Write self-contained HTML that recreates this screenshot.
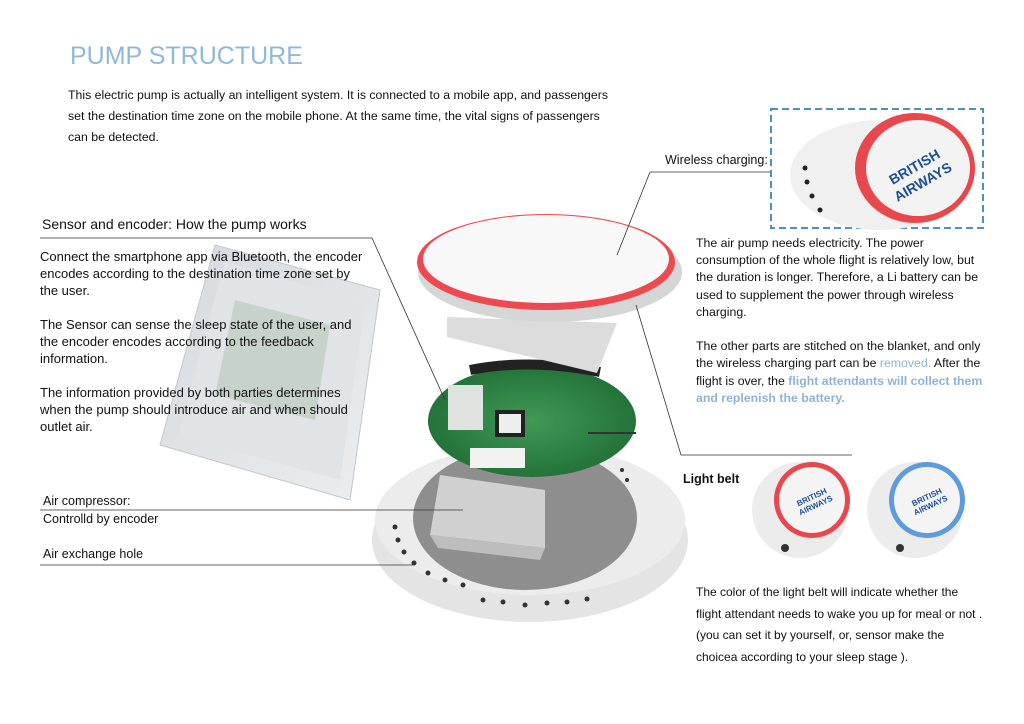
<!DOCTYPE html>
<html><head><meta charset="utf-8"><style>
body{margin:0;width:1024px;height:724px;background:#fff;position:relative;overflow:hidden;font-family:"Liberation Sans",sans-serif;color:#111}
.t{position:absolute;white-space:nowrap}
.s{font-size:12.3px;line-height:21px}
.m{font-size:13px;line-height:17px}
.b{color:#8fb3d6;font-weight:bold}
</style></head><body>
<svg width="1024" height="724" style="position:absolute;left:0;top:0">
<defs>
<linearGradient id="ph" x1="0" y1="0" x2="1" y2="1"><stop offset="0" stop-color="#c8cdd3"/><stop offset="1" stop-color="#e6e8ea"/></linearGradient>
<radialGradient id="pc" cx="0.5" cy="0.5" r="0.6"><stop offset="0" stop-color="#3f9a55"/><stop offset="1" stop-color="#1f6b35"/></radialGradient>
</defs>
<g opacity="0.75">
<polygon points="215,245 380,290 350,500 160,445" fill="url(#ph)" stroke="#b0b5ba"/>
<polygon points="225,262 365,302 340,480 178,435" fill="#d6dbe0"/>
<polygon points="235,300 330,325 315,420 215,395" fill="#9fb3a0" opacity="0.6"/>
</g>
<ellipse cx="530" cy="540" rx="158" ry="82" fill="#e4e4e4"/>
<ellipse cx="530" cy="520" rx="155" ry="75" fill="#ececec"/>
<ellipse cx="525" cy="518" rx="112" ry="72" fill="#8e8e8e"/>
<polygon points="440,475 545,490 545,548 430,535" fill="#d0d0d0"/>
<polygon points="430,535 545,548 540,560 438,548" fill="#bdbdbd"/>
<g fill="#333">
<circle cx="395" cy="527" r="2.5"/><circle cx="398" cy="540" r="2.5"/><circle cx="404" cy="552" r="2.5"/><circle cx="414" cy="563" r="2.5"/><circle cx="428" cy="573" r="2.5"/><circle cx="445" cy="580" r="2.5"/><circle cx="463" cy="585" r="2.5"/><circle cx="483" cy="600" r="2.5"/><circle cx="503" cy="602" r="2.5"/><circle cx="525" cy="605" r="2.5"/><circle cx="547" cy="603" r="2.5"/><circle cx="567" cy="602" r="2.5"/><circle cx="587" cy="599" r="2.5"/><circle cx="627" cy="480" r="2"/><circle cx="622" cy="470" r="2"/>
</g>
<ellipse cx="532" cy="421" rx="104" ry="56" fill="url(#pc)"/>
<rect x="448" y="385" width="35" height="45" fill="#dfe3df"/>
<rect x="495" y="410" width="30" height="27" fill="#222"/><rect x="499" y="414" width="22" height="19" fill="#eee"/>
<rect x="470" y="448" width="55" height="20" fill="#f2f2f2"/>
<path d="M470,370 Q530,358 600,372" stroke="#222" stroke-width="10" fill="none"/>
<polygon points="447,317 617,323 597,373 447,337" fill="#dcdcdc"/>
<ellipse cx="550" cy="272" rx="132" ry="50" fill="#d6d6d6"/>
<ellipse cx="546" cy="262" rx="129" ry="48" fill="#ec4a50"/>
<ellipse cx="546" cy="259" rx="123" ry="44" fill="#f8f8f8"/>
<g stroke="#333" stroke-width="0.8" fill="none">
<polyline points="40,238 372,238 445,400"/>
<polyline points="650,172 770,172"/><line x1="650" y1="172" x2="617" y2="255"/>
<polyline points="636,305 681,455 852,455"/>
<line x1="40" y1="510" x2="463" y2="510"/>
<line x1="40" y1="565" x2="413" y2="565"/>
<line x1="588" y1="433" x2="636" y2="433" stroke-width="2"/>
</g>
<rect x="771" y="109" width="212" height="119" fill="none" stroke="#4c8fc7" stroke-width="2" stroke-dasharray="7,4"/>
<ellipse cx="880" cy="175" rx="90" ry="55" fill="#f0f0f0"/>
<ellipse cx="915" cy="168" rx="60" ry="55" fill="#e8474d"/>
<ellipse cx="918" cy="168" rx="52" ry="48" fill="#f3f3f3"/>
<text x="890" y="175" font-size="14" font-weight="bold" fill="#1d4d9a" transform="rotate(-30 910 175)" font-family="Liberation Sans">BRITISH</text>
<text x="895" y="192" font-size="14" font-weight="bold" fill="#1d4d9a" transform="rotate(-30 915 192)" font-family="Liberation Sans">AIRWAYS</text>
<g fill="#222"><circle cx="805" cy="168" r="2.5"/><circle cx="807" cy="182" r="2.5"/><circle cx="812" cy="196" r="2.5"/><circle cx="820" cy="210" r="2.5"/></g>
<circle cx="800" cy="510" r="48" fill="#ececec"/>
<circle cx="812" cy="500" r="38" fill="#e8474d"/><circle cx="812" cy="500" r="33" fill="#f4f4f4"/>
<text x="797" y="500" font-size="8" font-weight="bold" fill="#1d4d9a" transform="rotate(-25 812 500)" font-family="Liberation Sans">BRITISH</text>
<text x="799" y="510" font-size="8" font-weight="bold" fill="#1d4d9a" transform="rotate(-25 812 510)" font-family="Liberation Sans">AIRWAYS</text>
<circle cx="785" cy="548" r="4" fill="#333"/>
<circle cx="915" cy="510" r="48" fill="#ececec"/>
<circle cx="927" cy="500" r="38" fill="#5c9bde"/><circle cx="927" cy="500" r="33" fill="#f4f4f4"/>
<text x="912" y="500" font-size="8" font-weight="bold" fill="#1d4d9a" transform="rotate(-25 927 500)" font-family="Liberation Sans">BRITISH</text>
<text x="914" y="510" font-size="8" font-weight="bold" fill="#1d4d9a" transform="rotate(-25 927 510)" font-family="Liberation Sans">AIRWAYS</text>
<circle cx="900" cy="548" r="4" fill="#333"/>
</svg>
<div class="t" style="left:70px;top:42px;font-size:25px;color:#8fb8d9">PUMP STRUCTURE</div>
<div class="t s" style="left:68px;top:85px">This electric pump is actually an intelligent system. It is connected to a mobile app, and passengers<br>set the destination time zone on the mobile phone. At the same time, the vital signs of passengers<br>can be detected.</div>
<div class="t" style="left:42px;top:216px;font-size:14px">Sensor and encoder: How the pump works</div>
<div class="t m" style="left:40px;top:248px">Connect the smartphone app via Bluetooth, the encoder<br>encodes according to the destination time zone set by<br>the user.<br><br>The Sensor can sense the sleep state of the user, and<br>the encoder encodes according to the feedback<br>information.<br><br>The information provided by both parties determines<br>when the pump should introduce air and when should<br>outlet air.</div>
<div class="t" style="left:43px;top:492px;font-size:12.5px;line-height:18px">Air compressor:<br>Controlld by encoder</div>
<div class="t" style="left:43px;top:547px;font-size:12.5px">Air exchange hole</div>
<div class="t" style="left:665px;top:153px;font-size:12.5px">Wireless charging:</div>
<div class="t" style="left:696px;top:235px;font-size:12.3px;line-height:17.2px">The air pump needs electricity. The power<br>consumption of the whole flight is relatively low, but<br>the duration is longer. Therefore, a Li battery can be<br>used to supplement the power through wireless<br>charging.<br><br>The other parts are stitched on the blanket, and only<br>the wireless charging part can be <span class="b" style="font-weight:normal">removed.</span> After the<br>flight is over, the <span class="b">flight attendants will collect them</span><br><span class="b">and replenish the battery.</span></div>
<div class="t" style="left:683px;top:472px;font-size:12.5px;font-weight:bold">Light belt</div>
<div class="t" style="left:696px;top:582px;font-size:12px;line-height:21.7px">The color of the light belt will indicate whether the<br>flight attendant needs to wake you up for meal or not .<br>(you can set it by yourself, or, sensor make the<br>choicea according to your sleep stage ).</div>
</body></html>
